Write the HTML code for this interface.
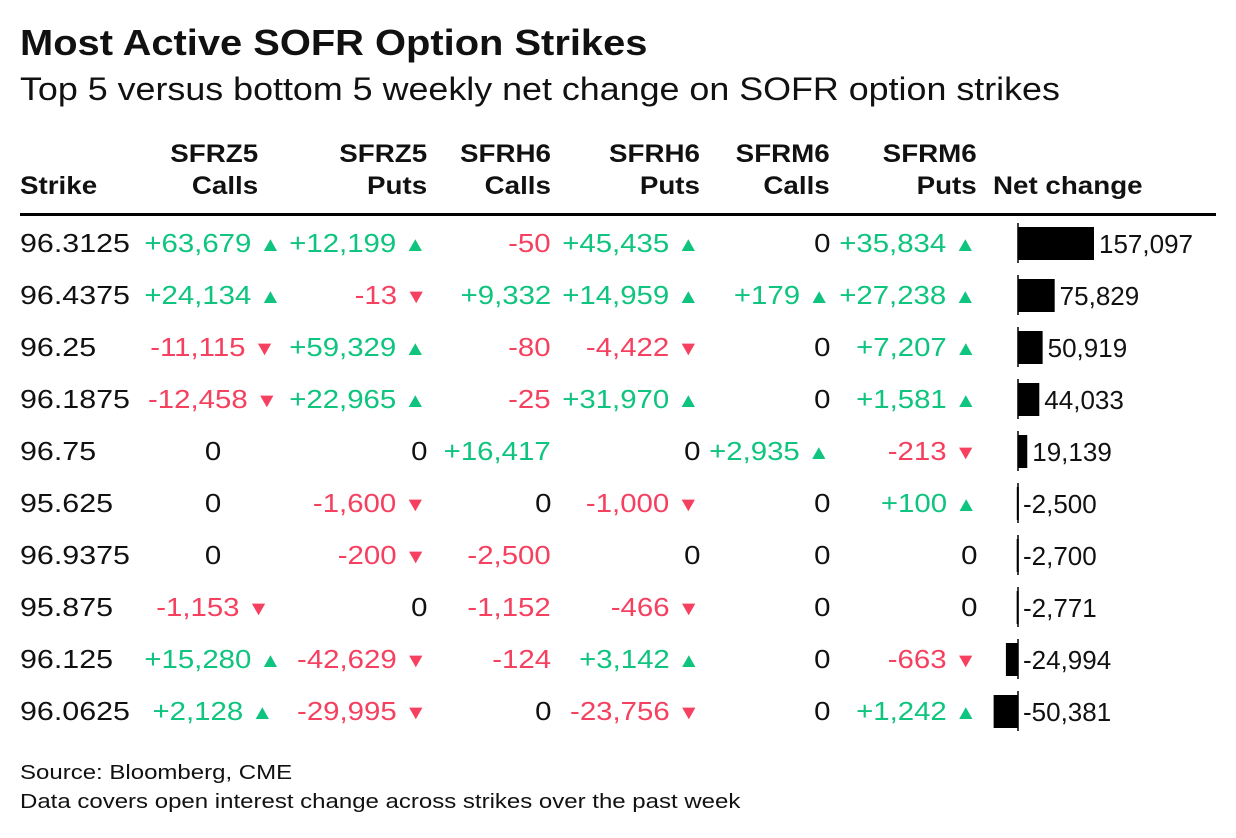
<!DOCTYPE html>
<html><head><meta charset="utf-8"><style>
body{margin:0;width:1236px;height:838px;background:#fff;font-family:"Liberation Sans",sans-serif;color:#111;position:relative;overflow:hidden}
.a{position:absolute;white-space:nowrap}
.t{left:20px;top:22px;font-size:36px;font-weight:bold;transform:scaleX(1.107);transform-origin:left}
.s{left:20px;top:71px;font-size:32px;transform:scaleX(1.12);transform-origin:left}
.h{font-size:25px;font-weight:bold;line-height:32px;top:138px;text-align:right;transform:scaleX(1.11);transform-origin:right}
.c{font-size:26px;line-height:30px;transform:scaleX(1.13);transform-origin:right}
.g{color:#0fc47f}.r{color:#f5405f}
.ar{font-size:20px;margin-left:7px;vertical-align:1px}
.f{font-size:20px;left:20px;transform:scaleX(1.2);transform-origin:left}
</style></head><body>
<div class="a t">Most Active SOFR Option Strikes</div>
<div class="a s">Top 5 versus bottom 5 weekly net change on SOFR option strikes</div>
<div class="a h" style="left:20px;top:170px;text-align:left;transform-origin:left">Strike</div>
<div class="a h" style="right:978px">SFRZ5<br>Calls</div>
<div class="a h" style="right:809px">SFRZ5<br>Puts</div>
<div class="a h" style="right:685px">SFRH6<br>Calls</div>
<div class="a h" style="right:536px">SFRH6<br>Puts</div>
<div class="a h" style="right:406px">SFRM6<br>Calls</div>
<div class="a h" style="right:259px">SFRM6<br>Puts</div>
<div class="a h" style="left:993px;top:170px;text-align:left;transform-origin:left">Net change</div>
<div class="a" style="left:20px;top:213px;width:1196px;height:3px;background:#000"></div>
<div id="rows"></div>
<svg class="a" style="left:0;top:0" width="1236" height="838" id="bars"></svg>
<div class="a f" style="top:762px">Source: Bloomberg, CME</div>
<div class="a f" style="top:791px">Data covers open interest change across strikes over the past week</div>
<script>
const strikes=["96.3125","96.4375","96.25","96.1875","96.75","95.625","96.9375","95.875","96.125","96.0625"];
const z5c=[63679,24134,-11115,-12458,0,0,0,-1153,15280,2128];
const z5p=[12199,-13,59329,22965,0,-1600,-200,0,-42629,-29995];
const h6c=[-50,9332,-80,-25,16417,0,-2500,-1152,-124,0];
const h6p=[45435,14959,-4422,31970,0,-1000,0,-466,3142,-23756];
const m6c=[0,179,0,0,2935,0,0,0,0,0];
const m6p=[35834,27238,7207,1581,-213,100,0,0,-663,1242];
const net=[157097,75829,50919,44033,19139,-2500,-2700,-2771,-24994,-50381];
const cols=[
 {d:z5c,arrow:true,center:213,name:'sfrz5-calls'},
 {d:z5p,arrow:true,right:427,name:'sfrz5-puts'},
 {d:h6c,arrow:false,right:551,name:'sfrh6-calls'},
 {d:h6p,arrow:true,right:700,name:'sfrh6-puts'},
 {d:m6c,arrow:true,right:830,name:'sfrm6-calls'},
 {d:m6p,arrow:true,right:977,name:'sfrm6-puts'}];
const fmt=v=>(v>0?'+':'')+v.toLocaleString('en-US');
const rowsEl=document.getElementById('rows');
const rowY=i=>243+i*52;
strikes.forEach((s,i)=>{
 const y=rowY(i)-15;
 const st=document.createElement('div');
 st.className='a c';st.style.left='20px';st.style.top=y+'px';st.style.transform='scaleX(1.17)';st.style.transformOrigin='left';st.textContent=s;
 
 
 rowsEl.appendChild(st);
 cols.forEach(c=>{
  const v=c.d[i];const el=document.createElement('div');
  el.className='a c '+(v>0?'g':v<0?'r':'');
  el.style.top=y+'px';
  let h=v===0?'0':fmt(v);
  if(c.arrow&&v!==0)h+='<span class="ar">'+(v>0?'▲':'▼')+'</span>';
  el.innerHTML=h;
  if(c.center!==undefined){el.style.left=(c.center-150)+'px';el.style.width='300px';el.style.textAlign='center';el.style.transformOrigin='center';}
  else{el.style.right=(1236-c.right)+'px';}
  
  
  rowsEl.appendChild(el);
 });
});
const svg=document.getElementById('bars');const NS='http://www.w3.org/2000/svg';
const x0=1018,scale=76/157097;const xS=v=>x0+v*scale;
net.forEach((v,i)=>{
 const cy=rowY(i);
 const r=document.createElementNS(NS,'rect');
 const x1=Math.min(xS(v),x0),x2=Math.max(xS(v),x0);
 r.setAttribute('x',x1);r.setAttribute('y',cy-16);r.setAttribute('width',Math.max(x2-x1,2));r.setAttribute('height',33);r.setAttribute('fill','#000');
 
 
 svg.appendChild(r);
 const l=document.createElementNS(NS,'line');
 l.setAttribute('x1',x0);l.setAttribute('x2',x0);l.setAttribute('y1',cy-20);l.setAttribute('y2',cy+20);l.setAttribute('stroke','#000');l.setAttribute('stroke-width','1.5');
 
 
 svg.appendChild(l);
 const t=document.createElementNS(NS,'text');
 t.setAttribute('x',Math.max(xS(v),x0)+5);t.setAttribute('y',cy+10);t.setAttribute('font-size','26');t.setAttribute('font-family','Liberation Sans, sans-serif');t.setAttribute('fill','#111');
 t.textContent=v.toLocaleString('en-US');
 
 
 svg.appendChild(t);
});
</script>
</body></html>
